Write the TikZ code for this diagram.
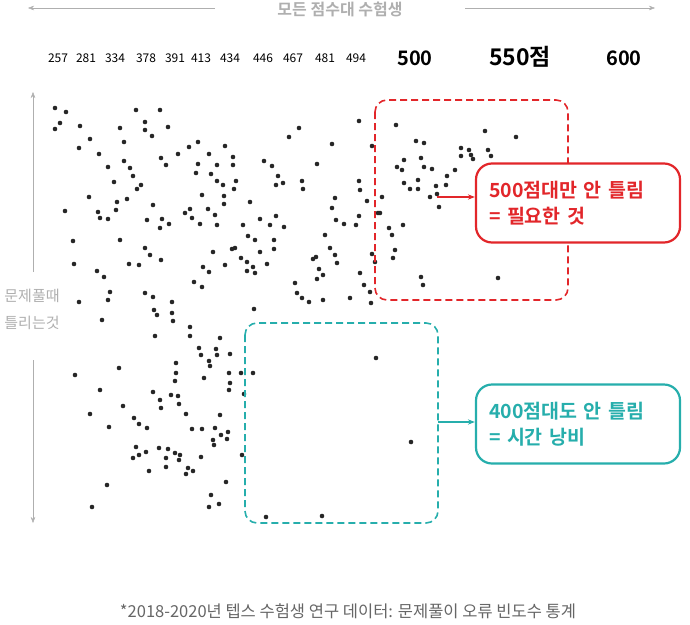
\documentclass[tikz,border=0pt]{standalone}
\usepackage{fontspec}
\setmainfont{Noto Sans CJK KR}[BoldFont={Noto Sans CJK KR Bold}]
\usepackage{tikz}
\usetikzlibrary{arrows.meta,positioning}
\definecolor{redbox}{RGB}{226,38,42}
\definecolor{tealbox}{RGB}{38,174,172}
\definecolor{greytxt}{RGB}{175,175,175}
\tikzset{
  dot/.style={fill=black!85,draw=none},
  zone/.style={dashed,dash pattern=on 7pt off 4pt,line width=1.6pt,rounded corners=12pt},
  callout/.style={draw,line width=2.2pt,rounded corners=16pt,fill=white,minimum width=204pt,minimum height=79pt,align=left,text width=178pt,font=\fontsize{19.5}{26}\selectfont\bfseries},
  score/.style={font=\fontsize{12}{14}\selectfont},
  bigscore/.style={font=\fontsize{20}{22}\selectfont\bfseries},
}
\begin{document}
\begin{tikzpicture}[x=1pt,y=-1pt]
\useasboundingbox (0,0) rectangle (690,624);

% header
\node[text=greytxt,font=\fontsize{16}{18}\selectfont\bfseries] (title) at (340,9) {모든 점수대 수험생};
\coordinate (tl) at (28,8);
\coordinate (tr) at (655,8);
\draw[greytxt,-{Stealth[length=6pt]}] (215,8) -- (tl);
\draw[greytxt,-{Stealth[length=6pt]}] (465,8) -- (tr);

% score axis
\foreach \x/\s in {58/257,86/281,115/334,146/378,175/391,201/413,230/434,263/446,293/467,325/481,356/494}
  \node[score] (s\s) at (\x,58) {\s};
\node[bigscore] (s500) at (415,58) {500};
\node[bigscore,font=\fontsize{23}{25}\selectfont\bfseries] (s550) at (520,57) {550점};
\node[bigscore] (s600) at (624,58) {600};

% side label
\node[text=greytxt,font=\fontsize{15}{27}\selectfont,align=center] (side) at (32,309) {문제풀때\\틀리는것};
\coordinate (st) at (33,92);
\coordinate (sb) at (33,523);
\draw[greytxt,-{Stealth[length=6pt]}] (33,272) -- (st);
\draw[greytxt,-{Stealth[length=6pt]}] (33,360) -- (sb);

% dots
\foreach \x/\y in {55/108,66/112,60/123,55/129,80/126,79/148,90/139,99/154,108/167,114/182,89/197,65/211,
120/128,124/142,124/161,130/168,133/176,141/185,137/189,127/199,117/202,116/210,98/212,100/218,108/219,
136/110,145/122,145/130,152/136,160/110,168/127,161/158,166/165,153/205,147/220,162/219,169/224,160/228,
73/241,120/240,74/264,97/271,104/277,110/292,108/300,79/302,129/264,139/265,145/248,150/255,161/260,
145/293,153/297,172/302,154/310,178/154,189/147,198/142,225/146,209/154,233/157,198/164,196/173,217/165,
233/165,211/174,217/181,223/185,236/181,234/189,202/195,224/196,224/204,185/213,190/209,192/218,200/224,
208/209,215/215,217/225,250/202,243/225,260/219,270/225,276/216,284/227,248/236,255/240,274/240,260/252,
274/249,213/252,232/249,235/248,241/258,247/262,253/267,255/273,247/271,267/264,225/265,203/267,209/272,
194/282,202/287,254/309,264/161,272/166,278/176,276/185,283/183,289/137,299/128,302/181,303/189,317/164,
332/144,335/198,332/208,336/220,344/224,356/225,359/216,367/201,359/181,360/190,359/121,372/146,325/235,
330/248,335/255,337/263,313/259,316/257,319/269,323/275,317/279,295/283,297/293,302/298,309/302,323/300,
350/298,360/273,364/285,370/292,371/303,372/254,375/262,378/213,
157/315,172/313,173/321,102/320,155/336,190/327,190/336,220/338,199/348,201/355,216/349,217/355,230/354,
209/361,210/366,176/363,176/373,175/381,204/378,229/373,241/373,253/373,230/383,229/390,244/394,119/368,
75/375,100/390,153/392,160/400,161/408,171/395,178/396,179/404,123/406,90/414,109/427,134/418,139/424,
147/428,186/414,220/415,192/429,202/429,215/428,228/432,221/435,227/439,213/440,214/445,136/447,139/455,
146/452,133/458,159/448,168/449,175/453,180/455,179/460,166/458,166/467,149/471,188/468,193/471,186/474,
201/457,242/455,226/482,107/485,92/507,211/495,209/507,219/504,266/517,322/516,
396/125,416/141,424/143,485/131,516/137,461/148,469/150,471/155,473/159,488/150,491/156,461/156,404/160,
421/158,397/167,402/170,424/167,432/169,455/170,447/176,446/185,436/186,437/194,430/197,439/207,418/180,
418/189,410/189,404/183,382/197,380/213,403/225,389/228,392/235,395/250,393/258,421/277,423/285,498/278,
376/358,411/442}
  \fill[dot] (\x,\y) circle (2.3);

% zones
\draw[zone,redbox] (375,100) rectangle (568,300);
\draw[zone,tealbox] (245,323) rectangle (438,523);

% callouts
\node[callout,draw=redbox,text=redbox] (need) at (578,203) {500점대만 안 틀림\\= 필요한 것};
\node[callout,draw=tealbox,text=tealbox] (waste) at (578,424) {400점대도 안 틀림\\= 시간 낭비};
\coordinate (needfrom) at (437,197);
\coordinate (wastefrom) at (438,422);
\draw[redbox,line width=1.3pt,-{Stealth[length=7pt]}] (needfrom) -- (needfrom -| need.west);
\draw[tealbox,line width=1.3pt,-{Stealth[length=7pt]}] (wastefrom) -- (wastefrom -| waste.west);

% footnote
\node[text=black!60,font=\fontsize{16.5}{18}\selectfont] (note) at (348,611) {*2018-2020년 텝스 수험생 연구 데이터: 문제풀이 오류 빈도수 통계};
\end{tikzpicture}
\end{document}
